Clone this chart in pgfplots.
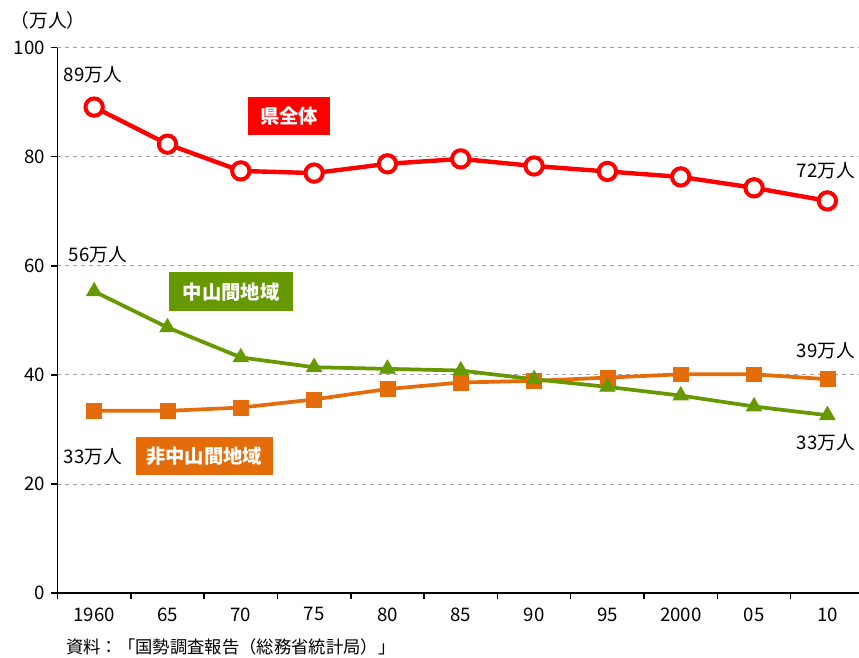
\documentclass[border=0pt]{standalone}
\usepackage{pgfplots}
\pgfplotsset{compat=1.18}
\usepackage{fontspec}
\setmainfont{Noto Sans CJK JP}
\definecolor{cred}{HTML}{FF0000}
\definecolor{cgreen}{HTML}{669900}
\definecolor{corange}{HTML}{E46C0A}
\begin{document}
\fontsize{14}{16}\selectfont
\begin{tikzpicture}
\useasboundingbox (-43.125pt,-48pt) rectangle (601.125pt,444.75pt);
\begin{axis}[
  scale only axis, width=604.9pt, height=409pt,
  at={(0,0)}, anchor=south west,
  xmin=-0.5, xmax=10.5, ymin=0, ymax=100,
  axis lines*=left,
  axis line style={line width=1.1pt, black},
  xtick={-0.5,0.5,...,9.5},
  xticklabels={},
  extra x ticks={0,1,2,3,4,5,6,7,8,9,10},
  extra x tick labels={1960,65,70,75,80,85,90,95,2000,05,10},
  extra x tick style={major tick length=0pt, xticklabel style={yshift=-6pt}},
  ytick={0,20,40,60,80,100},
  tick align=outside,
  major tick length=4.5pt,
  tick style={black, line width=1.1pt},
  ymajorgrids,
  grid style={dashed, gray!75, line width=0.6pt},
  ticklabel style={font=\fontsize{14}{16}\selectfont},
  /pgf/number format/assume math mode=true,
  clip=false,
]
\addplot[corange, line width=2.8pt, mark=square*, mark size=5.6pt,
  mark options={fill=corange, draw=corange, line width=0.5pt, rounded corners=1.5pt}]
  coordinates {(0,33.4) (1,33.4) (2,34.0) (3,35.5) (4,37.4) (5,38.6) (6,38.9) (7,39.5) (8,40.1) (9,40.1) (10,39.2)};
\addplot[cgreen, line width=2.8pt, mark=triangle*, mark size=6.6pt,
  mark options={fill=cgreen, draw=cgreen, line width=0.6pt}]
  coordinates {(0,55.3) (1,48.7) (2,43.2) (3,41.4) (4,41.1) (5,40.8) (6,39.2) (7,37.8) (8,36.2) (9,34.2) (10,32.6)};
\addplot[cred, line width=3.3pt, mark=*, mark size=6.5pt,
  mark options={fill=white, draw=cred, line width=3pt}]
  coordinates {(0,89.1) (1,82.3) (2,77.4) (3,77.0) (4,78.7) (5,79.6) (6,78.3) (7,77.3) (8,76.3) (9,74.3) (10,71.9)};
\end{axis}
\begin{scope}[xshift=-43.125pt, yshift=444.75pt, x=0.75pt, y=-0.75pt]
  \node at (48,20) {（万人）};
  \node at (93,75) {89万人};
  \node at (98,255) {56万人};
  \node at (93,457) {33万人};
  \node at (826,171) {72万人};
  \node at (826,351) {39万人};
  \node at (826,443) {33万人};
  \node[anchor=west, inner sep=0pt, font=\fontsize{13}{15}\selectfont] at (66,647) {資料：「国勢調査報告（総務省統計局）」};
  \node[fill=cred, text=white, font=\fontsize{14.5}{16}\selectfont\bfseries, minimum width=61.5pt, minimum height=28.5pt, inner sep=0pt] at (289,116) {県全体};
  \node[fill=cgreen, text=white, font=\fontsize{14.5}{16}\selectfont\bfseries, minimum width=93pt, minimum height=29.25pt, inner sep=0pt] at (231,292) {中山間地域};
  \node[fill=corange, text=white, font=\fontsize{14.5}{16}\selectfont\bfseries, minimum width=102.75pt, minimum height=28.5pt, inner sep=0pt] at (204,456) {非中山間地域};
\end{scope}
\end{tikzpicture}
\end{document}
